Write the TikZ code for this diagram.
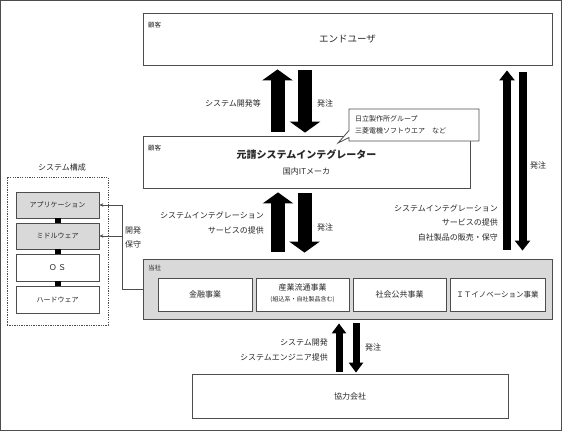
\documentclass[tikz,border=0pt]{standalone}
\usepackage{fontspec}
\setmainfont{Noto Sans CJK JP}
\usetikzlibrary{arrows.meta,shapes.callouts}
\definecolor{ln}{HTML}{4D4D4D}
\definecolor{tx}{HTML}{262626}
\definecolor{gr}{HTML}{D9D9D9}
\tikzset{
  box/.style={draw=ln, line width=0.8pt, rectangle, inner sep=0pt, text=tx},
  lbl/.style={text=tx, inner sep=0pt, font=\fontsize{8}{14.5}\selectfont},
  small/.style={text=tx, inner sep=0pt, font=\fontsize{6.5}{8}\selectfont},
  bigarr/.style={line width=14pt, -{Triangle[width=30pt,length=11pt]}},
  thinarr/.style={line width=8pt, -{Triangle[width=15pt,length=10pt]}},
  botarr/.style={line width=7pt, -{Triangle[width=14pt,length=10pt]}},
  conn/.style={draw=ln, line width=0.6pt},
  joint/.style={line width=6pt, black},
}
\begin{document}
\begin{tikzpicture}[x=1pt,y=-1pt]
\useasboundingbox (0,0) rectangle (562,431);
\draw[ln, line width=1.2pt] (0.6,0.6) rectangle (561.4,430.4);

% main boxes
\node[box, minimum width=409pt, minimum height=52pt, font=\fontsize{9.5}{11}\selectfont] (enduser) at (347.5,39) {エンドユーザ};
\node[small, anchor=west] (c1) at (148,25) {顧客};

\node[box, minimum width=327pt, minimum height=52pt] (yuken) at (306.5,162) {};
\node[small, anchor=west] (c2) at (148,148) {顧客};
\node[text=tx, inner sep=0pt, font=\fontsize{10}{12}\bfseries] (yukent) at (306.5,155) {元請システムインテグレーター};
\node[lbl] (kokunai) at (306.5,171) {国内ITメーカ};

\node[rectangle callout, draw=ln, line width=0.8pt, fill=white, minimum width=130pt, minimum height=32pt,
      text width=118pt, align=left, inner xsep=6pt, inner ysep=0pt, text=tx,
      font=\fontsize{7}{12}\selectfont, callout absolute pointer={(338,143)}, callout pointer width=7pt] (callout) at (414,125)
  {日立製作所グループ\\三菱電機ソフトウエア　など};

\node[box, fill=gr, minimum width=409pt, minimum height=60pt] (tosha) at (347.5,289) {};
\node[small, anchor=west] (c3) at (148,268) {当社};
\node[box, fill=white, minimum width=94pt, minimum height=33pt, font=\fontsize{8}{10}\selectfont] (kinyu) at (205,294.5) {金融事業};
\node[box, fill=white, minimum width=93pt, minimum height=33pt] (sangyo) at (302.5,294.5) {};
\node[lbl] (sangyot) at (302.5,287) {産業流通事業};
\node[text=tx, inner sep=0pt, font=\fontsize{6}{7}\selectfont] (sangyos) at (302.5,299.5) {(組込系・自社製品含む)};
\node[box, fill=white, minimum width=93pt, minimum height=33pt, font=\fontsize{8}{10}\selectfont] (shakai) at (399.5,294.5) {社会公共事業};
\node[box, fill=white, minimum width=95pt, minimum height=33pt, font=\fontsize{7.5}{9}\selectfont] (itinno) at (497.5,294.5) {ＩＴイノベーション事業};

\node[box, minimum width=316pt, minimum height=44pt, font=\fontsize{8}{10}\selectfont] (kyoryoku) at (350,396) {協力会社};

% big arrows top
\coordinate (ua) at (277.5,0);
\coordinate (da) at (305,0);
\draw[bigarr, shorten <=4pt, shorten >=4pt] (yuken.north -| ua) -- (enduser.south -| ua);
\draw[bigarr, shorten <=5pt, shorten >=3pt] (enduser.south -| da) -- (yuken.north -| da);
\node[lbl, anchor=east] (l1) at (261,103) {システム開発等};
\node[lbl, anchor=west] (l2) at (317,103) {発注};

% big arrows middle
\coordinate (ub) at (278,0);
\coordinate (db) at (304.5,0);
\draw[bigarr, shorten <=7pt, shorten >=4pt] (tosha.north -| ub) -- (yuken.south -| ub);
\draw[bigarr, shorten <=5pt, shorten >=6pt] (yuken.south -| db) -- (tosha.north -| db);
\node[lbl, anchor=east, align=right] (l3) at (264,223) {システムインテグレーション\\サービスの提供};
\node[lbl, anchor=west] (l4) at (317,227) {発注};

% right arrows
\coordinate (uc) at (507,0);
\coordinate (dc) at (522.5,0);
\draw[thinarr, shorten <=9pt, shorten >=5pt] (tosha.north -| uc) -- (enduser.south -| uc);
\draw[thinarr, shorten <=7pt, shorten >=8pt] (enduser.south -| dc) -- (tosha.north -| dc);
\node[lbl, anchor=east, align=right] (l5) at (498,222.5) {システムインテグレーション\\サービスの提供\\自社製品の販売・保守};
\node[lbl, anchor=west] (l6) at (530,165) {発注};

% bottom arrows
\coordinate (ud) at (339,0);
\coordinate (dd) at (356,0);
\draw[botarr, shorten <=2pt, shorten >=4pt] (kyoryoku.north -| ud) -- (tosha.south -| ud);
\draw[botarr, shorten <=4pt, shorten >=1pt] (tosha.south -| dd) -- (kyoryoku.north -| dd);
\node[lbl, anchor=east, align=right] (l7) at (328,350) {システム開発\\システムエンジニア提供};
\node[lbl, anchor=west] (l8) at (365,347) {発注};

% system composition
\node[lbl] (systitle) at (62,167) {システム構成};
\node[draw=ln, line width=0.7pt, dash pattern=on 1.3pt off 1.1pt, minimum width=101pt, minimum height=148pt, inner sep=0pt] (sys) at (57.5,251) {};
\node[box, fill=gr, minimum width=83pt, minimum height=26pt, font=\fontsize{7}{8}\selectfont] (app) at (57.5,205) {アプリケーション};
\node[box, fill=gr, minimum width=83pt, minimum height=26pt, font=\fontsize{7}{8}\selectfont] (mid) at (57.5,236) {ミドルウェア};
\node[box, fill=white, minimum width=83pt, minimum height=27pt, font=\fontsize{8}{9}\selectfont] (os) at (57.5,267.5) {Ｏ\,Ｓ};
\node[box, fill=white, minimum width=83pt, minimum height=27pt, font=\fontsize{7}{8}\selectfont] (hw) at (57.5,299.5) {ハードウェア};
\draw[joint] (app.south) -- (mid.north);
\draw[joint] (mid.south) -- (os.north);
\draw[joint] (os.south) -- (hw.north);

\coordinate (j) at (122,0);
\draw[conn, -{Stealth[length=4pt,width=3.5pt]}] (tosha.west) -| (j |- app.east) -- (app.east);
\draw[conn, -{Stealth[length=4pt,width=3.5pt]}] (j |- mid.east) -- (mid.east);
\node[lbl, anchor=west, align=left] (l9) at (125,237.5) {開発\\保守};
\end{tikzpicture}
\end{document}
